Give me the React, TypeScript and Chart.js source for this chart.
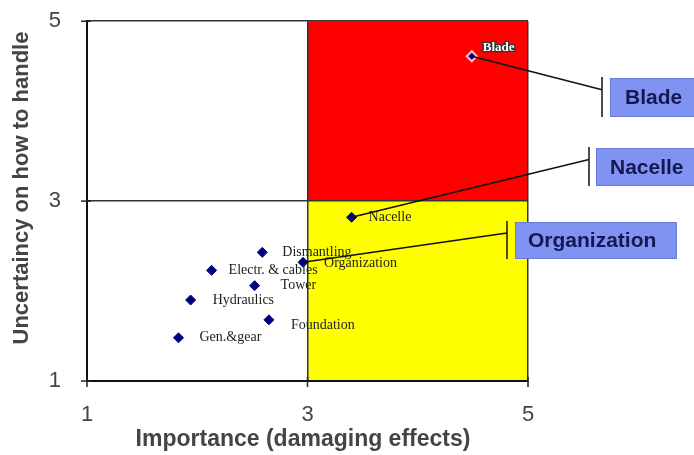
import React, { useEffect, useRef } from "react";
import { Chart, registerables } from "chart.js";

Chart.register(...registerables);

const names = ["Blade", "Nacelle", "Dismantling", "Organization", "Electr. & cables", "Tower", "Hydraulics", "Foundation", "Gen.&gear"];
const importance = [4.49, 3.4, 2.59, 2.96, 2.13, 2.52, 1.94, 2.65, 1.83];
const uncertainty = [4.61, 2.82, 2.43, 2.32, 2.23, 2.06, 1.9, 1.68, 1.48];
const tickValues = [1, 3, 5];
const callouts = ["Blade", "Nacelle", "Organization"];
const xTitle = "Importance (damaging effects)";
const yTitle = "Uncertaincy on how to handle";

// label offsets (px) relative to point
const labelOffsets: Record<string, [number, number]> = {
  Blade: [11, -9],
  Nacelle: [17, 0],
  Dismantling: [20, 0],
  Organization: [21, 1],
  "Electr. & cables": [17, 0],
  Tower: [26, 0],
  Hydraulics: [22, 0],
  Foundation: [22, 5],
  "Gen.&gear": [21, 0],
};

// callout box layout (px on canvas)
const calloutBoxes: Record<string, { bx: number; by: number; bw: number; bh: number; vx: number; tx: number }> = {
  Blade: { bx: 610, by: 78, bw: 90, bh: 39, vx: 602, tx: 15 },
  Nacelle: { bx: 596, by: 148, bw: 100, bh: 38, vx: 589, tx: 14 },
  Organization: { bx: 515, by: 222, bw: 162, bh: 37, vx: 507, tx: 13 },
};

const AXIS_FONT = "'Liberation Sans', Arial, sans-serif";

const quadrantPlugin = {
  id: "quadrants",
  beforeDraw(chart: any) {
    const { ctx, scales } = chart;
    const x = scales.x, y = scales.y;
    ctx.save();
    ctx.fillStyle = "#ffffff";
    ctx.fillRect(0, 0, chart.width, chart.height);
    const x3 = x.getPixelForValue(3), x5 = x.getPixelForValue(5);
    const y5 = y.getPixelForValue(5), y3 = y.getPixelForValue(3), y1 = y.getPixelForValue(1);
    ctx.fillStyle = "#ff0000";
    ctx.fillRect(x3, y5, x5 - x3, y3 - y5);
    ctx.fillStyle = "#ffff00";
    ctx.fillRect(x3, y3, x5 - x3, y1 - y3);
    ctx.restore();
  },
  afterDraw(chart: any) {
    const { ctx, scales, chartArea } = chart;
    const x = scales.x, y = scales.y;
    ctx.save();
    // axis titles
    ctx.fillStyle = "#444";
    ctx.textAlign = "center";
    ctx.textBaseline = "middle";
    ctx.font = "bold 23px " + AXIS_FONT;
    ctx.fillText(xTitle, 303, 440);
    ctx.save();
    ctx.translate(22, 188);
    ctx.rotate(-Math.PI / 2);
    ctx.font = "bold 22px " + AXIS_FONT;
    ctx.fillText(yTitle, 0, 0);
    ctx.restore();
    // tick marks crossing the axes
    ctx.strokeStyle = "#222";
    ctx.lineWidth = 1.5;
    tickValues.forEach((v) => {
      const py = y.getPixelForValue(v);
      ctx.beginPath();
      ctx.moveTo(chartArea.left - 6, py);
      ctx.lineTo(chartArea.left + 4, py);
      ctx.stroke();
      const px = x.getPixelForValue(v);
      ctx.beginPath();
      ctx.moveTo(px, chartArea.bottom - 4);
      ctx.lineTo(px, chartArea.bottom + 6);
      ctx.stroke();
    });
    // point labels
    ctx.textBaseline = "middle";
    ctx.textAlign = "left";
    names.forEach((n, i) => {
      const px = x.getPixelForValue(importance[i]);
      const py = y.getPixelForValue(uncertainty[i]);
      const [dx, dy] = labelOffsets[n] || [15, 0];
      if (n === "Blade") {
        ctx.font = "bold 13px 'Liberation Serif', 'DejaVu Serif', serif";
        ctx.lineWidth = 2.5;
        ctx.strokeStyle = "#333";
        ctx.strokeText(n, px + dx, py + dy);
        ctx.fillStyle = "#ffffff";
      } else {
        ctx.font = "14px 'Liberation Serif', 'DejaVu Serif', serif";
        ctx.fillStyle = "#222222";
      }
      ctx.fillText(n, px + dx, py + dy);
    });
    // callouts
    callouts.forEach((n) => {
      const i = names.indexOf(n);
      const px = x.getPixelForValue(importance[i]);
      const py = y.getPixelForValue(uncertainty[i]);
      const b = calloutBoxes[n];
      const ly = b.by + b.bh * 0.3;
      ctx.strokeStyle = "#111";
      ctx.lineWidth = 1.5;
      ctx.beginPath();
      ctx.moveTo(px, py);
      ctx.lineTo(b.vx, ly);
      ctx.stroke();
      ctx.lineWidth = 1.5;
      ctx.beginPath();
      ctx.moveTo(b.vx, b.by - 1);
      ctx.lineTo(b.vx, b.by + b.bh);
      ctx.stroke();
      ctx.fillStyle = "#8093f2";
      ctx.fillRect(b.bx, b.by, b.bw, b.bh);
      ctx.strokeStyle = "#6a7ad8";
      ctx.lineWidth = 1;
      ctx.strokeRect(b.bx + 0.5, b.by + 0.5, b.bw - 1, b.bh - 1);
      ctx.fillStyle = "#141850";
      ctx.font = "bold 21px " + AXIS_FONT;
      ctx.textAlign = "left";
      ctx.textBaseline = "middle";
      ctx.fillText(n, b.bx + b.tx, b.by + b.bh / 2 + 1);
    });
    ctx.restore();
  },
};

export default function App() {
  const ref = useRef<HTMLCanvasElement | null>(null);
  useEffect(() => {
    if (!ref.current) return;
    const chart = new Chart(ref.current, {
      type: "scatter",
      data: {
        datasets: [
          {
            label: "Components",
            data: names.map((_, i) => ({ x: importance[i], y: uncertainty[i] })),
            pointStyle: "rectRot",
            pointRadius: 5,
            backgroundColor: "#000080",
            borderColor: names.map((n) => (n === "Blade" ? "#f0c0d0" : "#000080")),
            borderWidth: names.map((n) => (n === "Blade" ? 2 : 1)),
          },
        ],
      },
      options: {
        animation: false,
        responsive: false,
        layout: { padding: { top: 20, right: 166, left: 0, bottom: 0 } },
        plugins: { legend: { display: false }, tooltip: { enabled: false } },
        scales: {
          x: {
            type: "linear",
            min: 1,
            max: 5,
            afterBuildTicks: (s: any) => {
              s.ticks = tickValues.map((v) => ({ value: v }));
            },
            afterFit: (s: any) => {
              s.height = 74;
            },
            ticks: {
              padding: 15,
              color: "#444",
              font: { family: AXIS_FONT, size: 22 },
            },
            grid: { color: "#333", lineWidth: 1.5, tickLength: 6, tickColor: "transparent" },
            border: { color: "#111", width: 2 },
            title: { display: false },
          },
          y: {
            type: "linear",
            min: 1,
            max: 5,
            afterBuildTicks: (s: any) => {
              s.ticks = tickValues.map((v) => ({ value: v }));
            },
            afterFit: (s: any) => {
              s.width = 87;
            },
            ticks: {
              padding: 8,
              color: "#444",
              font: { family: AXIS_FONT, size: 22 },
            },
            grid: { color: "#333", lineWidth: 1.5, tickLength: 18, tickColor: "transparent" },
            border: { color: "#111", width: 2 },
            title: { display: false },
          },
        },
      },
      plugins: [quadrantPlugin],
    } as any);
    return () => chart.destroy();
  }, []);
  return (
    <div style={{ position: "fixed", left: 0, top: 0, width: 694, height: 455, background: "#fff" }}>
      <canvas ref={ref} width={694} height={455} style={{ width: 694, height: 455, display: "block" }} />
    </div>
  );
}
